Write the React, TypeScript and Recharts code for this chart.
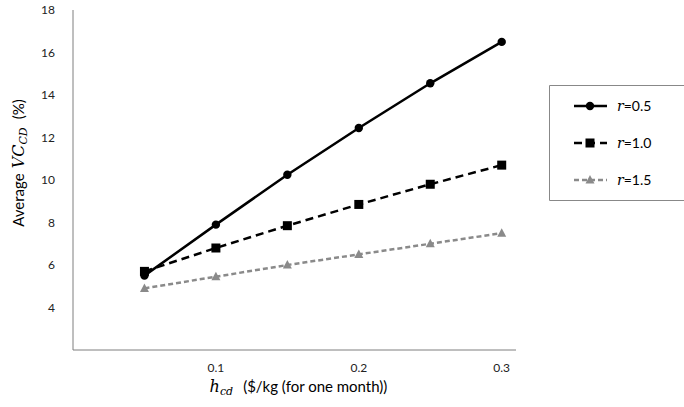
import React from 'react';
import { LineChart, Line, XAxis, YAxis, Label } from 'recharts';

const hcd = [0.05, 0.1, 0.15, 0.2, 0.25, 0.3];
const r05 = [5.5, 7.9, 10.25, 12.45, 14.55, 16.5];
const r10 = [5.7, 6.8, 7.85, 8.85, 9.8, 10.7];
const r15 = [4.9, 5.45, 6.0, 6.5, 7.0, 7.5];
const xTicks = [0.1, 0.2, 0.3];
const yTicks = [4, 6, 8, 10, 12, 14, 16, 18];
const seriesNames = ['0.5', '1.0', '1.5'];

const data = hcd.map((h, i) => ({ h, a: r05[i], b: r10[i], c: r15[i] }));

const SANS = 'Lato, "Open Sans", sans-serif';
const MATH = '"DejaVu Serif", "Liberation Serif", serif';
const GRAY = '#8a8a8a';

const Circle = (p: any) => <circle cx={p.cx} cy={p.cy} r={4.2} fill="#000" />;
const Square = (p: any) => <rect x={p.cx - 4.5} y={p.cy - 4.5} width={9} height={9} fill="#000" />;
const Tri = (p: any) => (
  <path d={`M${p.cx},${p.cy - 5} L${p.cx + 4.5},${p.cy + 3.5} L${p.cx - 4.5},${p.cy + 3.5} Z`} fill={GRAY} />
);

const LegendBox = () => {
  const rows = [
    { stroke: '#000', dash: undefined, Mark: Circle },
    { stroke: '#000', dash: '8 5', Mark: Square },
    { stroke: GRAY, dash: '5 3', Mark: Tri },
  ];
  return (
    <svg width={136} height={116} style={{ position: 'absolute', left: 549, top: 85 }}>
      <path d="M135,0.5 L0.5,0.5 L0.5,115.5 L135,115.5" fill="none" stroke="#888" strokeWidth={1} />
      {rows.map((r, i) => {
        const y = 21 + i * 37;
        return (
          <g key={i}>
            <line x1={25} x2={58} y1={y} y2={y} stroke={r.stroke} strokeWidth={2.5} strokeDasharray={r.dash} />
            <r.Mark cx={41} cy={y} />
            <text x={68} y={y + 5} fontSize={14} fill="#000">
              <tspan fontFamily={MATH} fontStyle="italic">r</tspan>
              <tspan fontFamily={SANS}>={seriesNames[i]}</tspan>
            </text>
          </g>
        );
      })}
    </svg>
  );
};

const XLabel = (props: any) => {
  const vb = props.viewBox;
  const cx = vb.x + vb.width / 2;
  return (
    <text x={cx + 4} y={vb.y + 42} textAnchor="middle" fontSize={15} fill="#000">
      <tspan fontFamily={MATH} fontStyle="italic" fontSize={16}>h</tspan>
      <tspan fontFamily={MATH} fontStyle="italic" fontSize={11} dy={3}>cd</tspan>
      <tspan fontFamily={SANS} dy={-3} dx={10}>($/kg (for one month))</tspan>
    </text>
  );
};

const YLabel = () => (
  <text x={0} y={0} transform="translate(24,163) rotate(-90)" textAnchor="middle" fontSize={15} fill="#000">
    <tspan fontFamily={SANS}>Average</tspan>
    <tspan fontFamily={MATH} fontStyle="italic" fontSize={16} dx={5}>VC</tspan>
    <tspan fontFamily={MATH} fontStyle="italic" fontSize={11} dy={3}>CD</tspan>
    <tspan fontFamily={SANS} dy={-3} dx={8}>(%)</tspan>
  </text>
);

export default function App() {
  return (
    <div style={{ position: 'absolute', left: 0, top: 0, width: 684, height: 407, background: '#fff' }}>
      <LineChart width={684} height={407} data={data} margin={{ top: 10, right: 168, bottom: 27, left: 0 }}>
        <XAxis
          dataKey="h"
          type="number"
          domain={[0, 0.31]}
          ticks={xTicks}
          tickFormatter={(v: number) => v.toFixed(1)}
          tickLine={false}
          tickSize={0}
          tickMargin={13}
          axisLine={{ stroke: '#7f7f7f', strokeWidth: 1 }}
          tick={{ fontSize: 12, fill: '#222', fontFamily: SANS }}
          allowDataOverflow
        >
          <Label content={<XLabel />} />
        </XAxis>
        <YAxis
          width={73}
          type="number"
          domain={[2, 18]}
          ticks={yTicks}
          tickLine={false}
          tickSize={0}
          tickMargin={18}
          axisLine={{ stroke: '#7f7f7f', strokeWidth: 1 }}
          tick={{ fontSize: 12, fill: '#222', fontFamily: SANS }}
        >
          <Label content={<YLabel />} />
        </YAxis>
        <Line dataKey="c" stroke={GRAY} strokeWidth={2.5} strokeDasharray="5 3" dot={<Tri />} isAnimationActive={false} />
        <Line dataKey="b" stroke="#000" strokeWidth={2.5} strokeDasharray="8 5" dot={<Square />} isAnimationActive={false} />
        <Line dataKey="a" stroke="#000" strokeWidth={2.5} dot={<Circle />} isAnimationActive={false} />
      </LineChart>
      <LegendBox />
    </div>
  );
}
